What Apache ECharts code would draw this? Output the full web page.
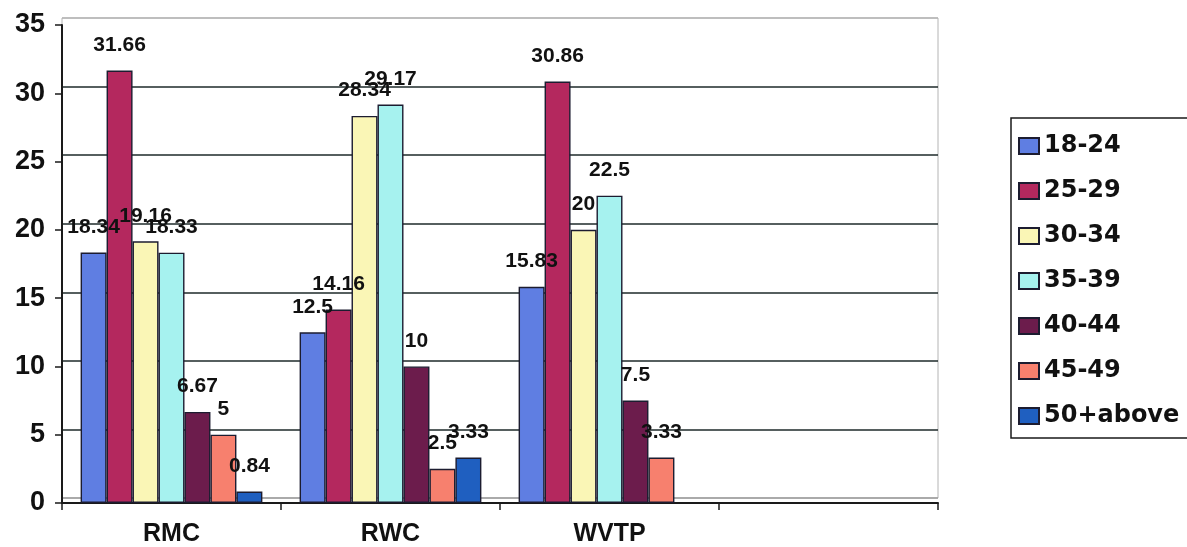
<!DOCTYPE html>
<html>
<head>
<meta charset="utf-8">
<script src="https://cdn.jsdelivr.net/npm/echarts@6/dist/echarts.min.js"></script>
<style>
  html, body { margin: 0; padding: 0; background: #ffffff; }
  #chart { width: 1187px; height: 547px; }
</style>
</head>
<body>
<div id="chart"></div>
<script>
// Sites (the fourth slot is an empty category on the axis)
const categories = ['RMC', 'RWC', 'WVTP', ''];

// Age groups, one series each
const ageGroups = ['18-24', '25-29', '30-34', '35-39', '40-44', '45-49', '50+above'];

// Percentage of respondents per age group at each site
const age18to24 = [18.34, 12.5, 15.83, null];
const age25to29 = [31.66, 14.16, 30.86, null];
const age30to34 = [19.16, 28.34, 20, null];
const age35to39 = [18.33, 29.17, 22.5, null];
const age40to44 = [6.67, 10, 7.5, null];
const age45to49 = [5, 2.5, 3.33, null];
const age50plus = [0.84, 3.33, null, null];

// Value axis ticks
const yMin = 0;
const yMax = 35;
const yStep = 5;

const seriesValues = [age18to24, age25to29, age30to34, age35to39, age40to44, age45to49, age50plus];
const seriesColors = ['#5f7ee2', '#b4285e', '#faf6b6', '#a6f2ef', '#6c1c4c', '#f7806e', '#1f5fc0'];

const textFont = '"Liberation Sans", Arial, sans-serif';
const ink = '#111111';

const chart = echarts.init(document.getElementById('chart'), null, { renderer: 'canvas' });

const series = ageGroups.map((name, i) => ({
  name: name,
  type: 'bar',
  xAxisIndex: 0,
  yAxisIndex: 0,
  data: seriesValues[i],
  barGap: '0%',
  barCategoryGap: '17%',
  itemStyle: {
    color: seriesColors[i],
    borderColor: '#1c1c30',
    borderWidth: 1.4
  },
  label: {
    show: true,
    position: 'top',
    distance: 15,
    color: ink,
    fontFamily: textFont,
    fontSize: 21,
    fontWeight: 'bold'
  }
}));

chart.setOption({
  animation: false,
  backgroundColor: '#ffffff',
  grid: [
    // front plane: bars and axes
    { left: 62, right: 249, top: 25, bottom: 42, containLabel: false },
    // back wall with the gridlines, set slightly up for depth
    { left: 62, right: 249, top: 18, bottom: 49, containLabel: false,
      show: true, borderColor: '#b4b4b4', borderWidth: 1, backgroundColor: 'transparent' }
  ],
  xAxis: [
    {
      type: 'category',
      gridIndex: 0,
      data: categories,
      boundaryGap: true,
      axisLine: { show: true, lineStyle: { color: '#1a1a1a', width: 2 } },
      axisTick: { show: true, length: 7, lineStyle: { color: '#1a1a1a', width: 1.5 } },
      axisLabel: { color: ink, fontFamily: textFont, fontSize: 25, fontWeight: 'bold', margin: 19 },
      splitLine: { show: false }
    },
    {
      type: 'category',
      gridIndex: 1,
      data: categories,
      show: false
    }
  ],
  yAxis: [
    {
      type: 'value',
      gridIndex: 0,
      min: yMin,
      max: yMax,
      interval: yStep,
      axisLine: { show: true, lineStyle: { color: '#1a1a1a', width: 2 } },
      axisTick: { show: true, length: 7, lineStyle: { color: '#1a1a1a', width: 1.5 } },
      axisLabel: { color: ink, fontFamily: textFont, fontSize: 27, fontWeight: 'bold', margin: 17 },
      splitLine: { show: false }
    },
    {
      type: 'value',
      gridIndex: 1,
      min: yMin,
      max: yMax,
      interval: yStep,
      axisLine: { show: false },
      axisTick: { show: false },
      axisLabel: { show: false },
      splitLine: {
        show: true,
        lineStyle: {
          color: ['#9a9a9a', '#1e2a2a', '#1e2a2a', '#1e2a2a', '#1e2a2a', '#1e2a2a', '#1e2a2a', '#b4b4b4'],
          width: 1.5
        }
      }
    }
  ],
  legend: {
    show: true,
    orient: 'vertical',
    left: 1011,
    top: 118,
    data: ageGroups,
    itemWidth: 20,
    itemHeight: 16,
    itemGap: 17,
    padding: [14, 10, 8, 7],
    borderColor: '#1a1a1a',
    borderWidth: 1.5,
    icon: 'rect',
    textStyle: {
      color: ink,
      fontFamily: '"DejaVu Sans", sans-serif',
      fontSize: 24,
      fontWeight: 'bold',
      lineHeight: 28
    }
  },
  series: series
});
</script>
</body>
</html>
